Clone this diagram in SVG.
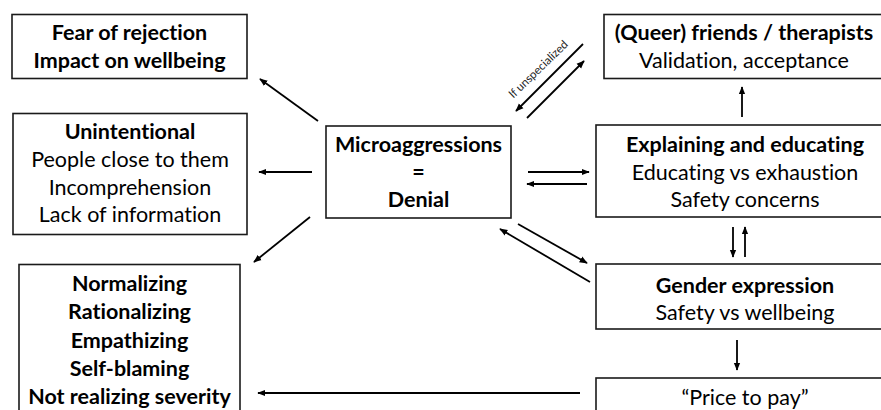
<svg xmlns="http://www.w3.org/2000/svg" width="881" height="410" viewBox="0 0 881 410">
<defs>
<marker id="ah" viewBox="0 0 10 10" refX="9" refY="5" markerWidth="4.5" markerHeight="4.5" orient="auto" markerUnits="strokeWidth">
<path d="M0,1 L10,5 L0,9 z" fill="#000"/>
</marker>
<style>
.box{fill:#fff;stroke:#1a1a1a;stroke-width:1.6}
text{font-family:Lato,"Liberation Sans",sans-serif;font-size:21.5px;fill:#000;text-anchor:middle;font-variant-ligatures:none;font-feature-settings:"liga" 0,"dlig" 0}
.b{font-weight:bold}
.c{stroke:#000;stroke-width:1.8;fill:none;marker-end:url(#ah)}
.lbl{font-size:11.5px;text-anchor:middle;fill:#222}
</style>
</defs>
<rect width="881" height="410" fill="#fff"/>
<g id="fear">
<rect class="box" x="12" y="14.5" width="235" height="64"/>
<text class="b" x="129.5" y="40">Fear of rejection</text>
<text class="b" x="129.5" y="68">Impact on wellbeing</text>
</g>
<g id="unintentional">
<rect class="box" x="13" y="113.5" width="234" height="121"/>
<text class="b" x="130" y="139">Unintentional</text>
<text x="130" y="167">People close to them</text>
<text x="130" y="194.5">Incomprehension</text>
<text x="130" y="222">Lack of information</text>
</g>
<g id="normalizing">
<rect class="box" x="19" y="264.5" width="221" height="160"/>
<text class="b" x="129.5" y="291">Normalizing</text>
<text class="b" x="129.5" y="319">Rationalizing</text>
<text class="b" x="129.5" y="347.5">Empathizing</text>
<text class="b" x="129.5" y="375.5">Self-blaming</text>
<text class="b" x="129.5" y="404">Not realizing severity</text>
</g>
<g id="microaggressions">
<rect class="box" x="326" y="126" width="185" height="92"/>
<text class="b" x="418.5" y="152">Microaggressions</text>
<text class="b" x="418.5" y="179">=</text>
<text class="b" x="418.5" y="207">Denial</text>
</g>
<g id="queer">
<rect class="box" x="604" y="14.5" width="280" height="64"/>
<text class="b" x="744" y="40">(Queer) friends / therapists</text>
<text x="744" y="68">Validation, acceptance</text>
</g>
<g id="explaining">
<rect class="box" x="596" y="125" width="290" height="92"/>
<text class="b" x="745" y="152">Explaining and educating</text>
<text x="745" y="180">Educating vs exhaustion</text>
<text x="745" y="207">Safety concerns</text>
</g>
<g id="gender">
<rect class="box" x="596" y="264" width="290" height="65"/>
<text class="b" x="745" y="293">Gender expression</text>
<text x="745" y="320">Safety vs wellbeing</text>
</g>
<g id="price">
<rect class="box" x="596" y="378" width="290" height="50"/>
<text x="745" y="405">“Price to pay”</text>
</g>
<g id="connectors">
<line class="c" x1="318" y1="121" x2="260" y2="79"/>
<line class="c" x1="312" y1="172" x2="259" y2="172"/>
<line class="c" x1="310" y1="217" x2="254" y2="262"/>
<line class="c" x1="583" y1="44" x2="516" y2="111"/>
<line class="c" x1="527" y1="118" x2="584" y2="61"/>
<text class="lbl" transform="translate(541,72) rotate(-44)">If unspecialized</text>
<line class="c" x1="528" y1="172" x2="589" y2="172"/>
<line class="c" x1="587" y1="184" x2="527" y2="184"/>
<line class="c" x1="518" y1="224" x2="587" y2="263"/>
<line class="c" x1="590" y1="282" x2="500" y2="229"/>
<line class="c" x1="742" y1="117" x2="742" y2="87"/>
<line class="c" x1="733" y1="227" x2="733" y2="257"/>
<line class="c" x1="745" y1="257" x2="745" y2="227"/>
<line class="c" x1="737" y1="340" x2="737" y2="370"/>
<line class="c" x1="580" y1="393" x2="258" y2="393"/>
</g>
</svg>
